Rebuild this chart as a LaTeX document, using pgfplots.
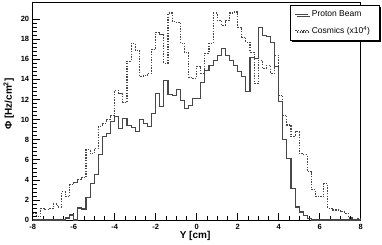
\documentclass[border=0pt]{standalone}
\usepackage{fontspec}
\setmainfont{Liberation Sans}
\usepackage{pgfplots}
\usepackage{pgfplotstable}
\pgfplotsset{compat=1.18}
\usetikzlibrary{shadows}

\pgfplotstableread{
x y
-8.0 0
-7.8 0
-7.6 0
-7.4 0
-7.2 0
-7.0 0
-6.8 0
-6.6 0
-6.4 0.2
-6.2 0.5
-6.0 0
-5.8 1.2
-5.6 1.1
-5.4 2.2
-5.2 3.6
-5.0 4.5
-4.8 6.5
-4.6 8.3
-4.4 8.6
-4.2 9.8
-4.0 10.3
-3.8 9.1
-3.6 10.1
-3.4 9.4
-3.2 9.2
-3.0 8.8
-2.8 10.0
-2.6 9.6
-2.4 9.3
-2.2 10.6
-2.0 12.6
-1.8 11.3
-1.6 13.9
-1.4 12.5
-1.2 12.4
-1.0 13.0
-0.8 11.9
-0.6 11.1
-0.4 11.4
-0.2 12.1
0.0 12.1
0.2 13.7
0.4 14.9
0.6 15.4
0.8 15.9
1.0 16.4
1.2 17.1
1.4 16.4
1.6 15.9
1.8 15.4
2.0 14.8
2.2 14.3
2.4 12.8
2.6 16.2
2.8 16.1
3.0 19.2
3.2 18.4
3.4 18.3
3.6 17.7
3.8 15.3
4.0 11.8
4.2 8.0
4.4 6.1
4.6 3.1
4.8 1.3
5.0 0.8
5.2 0.45
5.4 0.15
5.6 0
5.8 0
6.0 0
6.2 0
6.4 0
6.6 0
6.8 0
7.0 0
7.2 0
7.4 0
7.6 0
7.8 0
8.0 0
}\proton

\pgfplotstableread{
x y
-8.0 0.65
-7.8 0.35
-7.6 1.15
-7.4 1.05
-7.2 1.15
-7.0 1.6
-6.8 1.3
-6.6 2.8
-6.4 2.3
-6.2 3.5
-6.0 3.7
-5.8 4.0
-5.6 4.2
-5.4 7.0
-5.2 6.6
-5.0 7.1
-4.8 9.3
-4.6 9.6
-4.4 10.0
-4.2 10.4
-4.0 12.9
-3.8 12.6
-3.6 11.7
-3.4 15.8
-3.2 17.6
-3.0 16.9
-2.8 14.3
-2.6 14.4
-2.4 14.6
-2.2 17.0
-2.0 18.7
-1.8 18.5
-1.6 15.6
-1.4 20.6
-1.2 19.8
-1.0 19.7
-0.8 17.6
-0.6 16.7
-0.4 14.2
-0.2 14.1
0.0 15.3
0.2 14.6
0.4 16.6
0.6 17.6
0.8 20.6
1.0 19.9
1.2 19.4
1.4 19.9
1.6 20.6
1.8 20.7
2.0 19.2
2.2 18.2
2.4 17.7
2.6 16.7
2.8 13.6
3.0 15.9
3.2 15.1
3.4 15.4
3.6 14.6
3.8 16.4
4.0 12.4
4.2 10.4
4.4 9.45
4.6 8.3
4.8 8.8
5.0 6.6
5.2 6.5
5.4 4.8
5.6 3.0
5.8 2.3
6.0 2.3
6.2 3.6
6.4 1.16
6.6 1.0
6.8 1.0
7.0 0.83
7.2 0.66
7.4 0.2
7.6 0.05
7.8 0.1
8.0 0.1
}\cosmic

\begin{document}
\begin{tikzpicture}
\useasboundingbox (-32.7pt,-24pt) rectangle (349.3pt,220pt);
\begin{axis}[
  at={(0pt,0pt)}, anchor=south west,
  scale only axis, width=328pt, height=218pt,
  xmin=-8, xmax=8, ymin=0, ymax=21.7,
  axis line style={line width=0.7pt},
  tick align=inside, xtick pos=left, ytick pos=left,
  xtick={-8,-6,-4,-2,0,2,4,6,8},
  xticklabels={-8,-6,-4,-2,0,2,4,6,8},
  ytick={0,2,4,6,8,10,12,14,16,18,20},
  minor x tick num=3, minor y tick num=4,
  major tick length=7.5pt, minor tick length=3.8pt,
  tick style={black, line width=0.5pt},
  /pgf/number format/assume math mode=true,
  ticklabel style={font=\fontsize{7.5}{8}\selectfont\bfseries},
  xticklabel style={yshift=-0.5pt},
  label style={font=\fontsize{10}{12}\selectfont\bfseries},
  xlabel={Y [cm]},
  ylabel={Φ [Hz/cm\textsuperscript{2}]},
  xlabel style={at={(axis description cs:0.495,-0.073)}, anchor=center},
  ylabel style={at={(axis description cs:-0.073,0.532)}, anchor=center},
  legend style={at={(axis description cs:0.7845,0.986)}, anchor=north west,
    draw=black, line width=0.6pt, fill=white,
    font=\fontsize{8.5}{10}\selectfont,
    inner xsep=1.5pt, inner ysep=3.5pt, row sep=4pt,
    drop shadow={shadow xshift=1.6pt, shadow yshift=-1.6pt, fill=black, opacity=1}},
  legend cell align=left,
  legend image code/.code={\path (0pt,0pt); \draw[#1, line width=0.9pt] (3pt,0pt) -- (16pt,0pt);},
]
\addplot[const plot, color=black!72, line width=1.15pt] table {\proton};
\addlegendentry{\hspace{1pt}\makebox[64pt][l]{Proton Beam}}
\addplot[const plot, color=black!72, line width=1.15pt, dash pattern=on 1.4pt off 1.3pt] table {\cosmic};
\addlegendentry{\hspace{1pt}\makebox[64pt][l]{Cosmics (x10\textsuperscript{4})}}
\end{axis}
\end{tikzpicture}
\end{document}
